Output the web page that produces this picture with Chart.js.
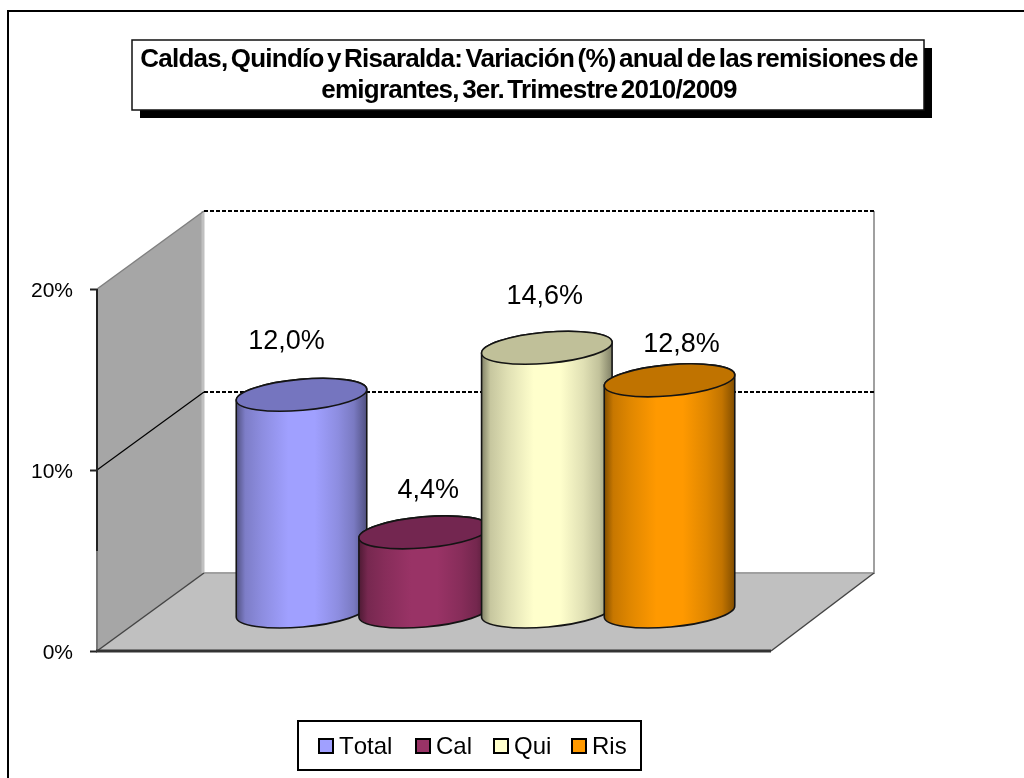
<!DOCTYPE html>
<html lang="es">
<head>
<meta charset="utf-8">
<title>Remisiones de emigrantes</title>
<script src="https://cdn.jsdelivr.net/npm/chart.js@4/dist/chart.umd.js"></script>
<style>
  html, body { margin: 0; background: #fff; }
  canvas { display: block; }
</style>
</head>
<body>
<canvas id="chart" width="1024" height="778"></canvas>
<script>
const categories = [''];
const seriesNames = ['Total', 'Cal', 'Qui', 'Ris'];
const seriesValues = [12.0, 4.4, 14.6, 12.8];
const yTicks = [0, 10, 20];
const titleLines = [
  'Caldas, Quindío y Risaralda: Variación (%) anual de las remisiones de',
  'emigrantes, 3er. Trimestre 2010/2009'
];

// colours per series: side and darker top cap
const sideColors = ['#a0a0ff', '#993366', '#ffffcc', '#ff9900'];
const capColors = ['#7575bf', '#732650', '#c0c099', '#c07300'];
// label nudges from the top of each cylinder, as in the picture
const labelDx = [-15, 4, -2, 12];
const labelDy = [-53, -42, -51, -36];
const legendX = [319, 416, 494, 572];
// horizontal shading of a cylinder side: [position, brightness]
const shadeStops = [[0, 0.5], [0.07, 0.78], [0.2, 0.88], [0.4, 1], [0.6, 1], [0.78, 0.88], [0.9, 0.76], [1, 0.5]];

const FONT = '"Liberation Sans", Arial, sans-serif';
const fmtPct = v => v.toFixed(1).replace('.', ',') + '%';
const shade = (hex, f) => {
  const n = parseInt(hex.slice(1), 16);
  return `rgb(${Math.round((n >> 16) * f)},${Math.round(((n >> 8) & 255) * f)},${Math.round((n & 255) * f)})`;
};

const scene = {
  id: 'scene',
  beforeDatasetDraw: () => false, // bars get painted as cylinders below
  beforeDatasetsDraw(chart) {
    const { ctx, chartArea: a, scales: { y } } = chart;
    const bl = a.left + 107, br = a.right + 103, up = 78;
    const y0 = y.getPixelForValue(0), yTop = y.getPixelForValue(20);
    ctx.save();
    // back wall
    ctx.fillStyle = '#fff';
    ctx.fillRect(bl, yTop - up, br - bl, y0 - yTop);
    // side wall
    ctx.fillStyle = '#a6a6a6';
    ctx.beginPath();
    ctx.moveTo(a.left, yTop); ctx.lineTo(bl, yTop - up); ctx.lineTo(bl, y0 - up); ctx.lineTo(a.left, y0);
    ctx.closePath(); ctx.fill();
    // floor
    ctx.fillStyle = '#c0c0c0';
    ctx.beginPath();
    ctx.moveTo(a.left, y0); ctx.lineTo(a.right, y0); ctx.lineTo(br, y0 - up); ctx.lineTo(bl, y0 - up);
    ctx.closePath(); ctx.fill();
    // wall edges
    ctx.strokeStyle = '#c0c0c0'; ctx.lineWidth = 3;
    ctx.beginPath(); ctx.moveTo(bl - 1, yTop - up); ctx.lineTo(bl - 1, y0 - up); ctx.stroke();
    ctx.strokeStyle = '#a0a0a0'; ctx.lineWidth = 2;
    ctx.beginPath(); ctx.moveTo(br, yTop - up); ctx.lineTo(br, y0 - up); ctx.lineTo(bl, y0 - up); ctx.stroke();
    ctx.strokeStyle = '#808080'; ctx.lineWidth = 1.5;
    ctx.beginPath(); ctx.moveTo(a.left, yTop); ctx.lineTo(bl, yTop - up); ctx.stroke();
    ctx.strokeStyle = '#444';
    ctx.beginPath(); ctx.moveTo(a.left, y0); ctx.lineTo(bl, y0 - up); ctx.stroke();
    ctx.beginPath(); ctx.moveTo(a.right, y0); ctx.lineTo(br, y0 - up); ctx.stroke();
    // gridlines
    yTicks.filter(v => v > 0).forEach(v => {
      const py = y.getPixelForValue(v);
      ctx.strokeStyle = '#000'; ctx.lineWidth = 1.2;
      ctx.setLineDash([]);
      if (v < 20) { ctx.beginPath(); ctx.moveTo(a.left, py); ctx.lineTo(bl, py - up); ctx.stroke(); }
      ctx.lineWidth = 2;
      ctx.setLineDash([4, 2]);
      ctx.beginPath(); ctx.moveTo(bl, py - up); ctx.lineTo(br, py - up); ctx.stroke();
      ctx.setLineDash([]);
    });
    // axes
    ctx.strokeStyle = '#222'; ctx.lineWidth = 2;
    ctx.beginPath(); ctx.moveTo(a.left, yTop); ctx.lineTo(a.left, y0 - 100); ctx.stroke();
    ctx.strokeStyle = '#777';
    ctx.beginPath(); ctx.moveTo(a.left, y0 - 100); ctx.lineTo(a.left, y0); ctx.stroke();
    ctx.strokeStyle = '#333'; ctx.lineWidth = 3;
    ctx.beginPath(); ctx.moveTo(a.left - 1, y0); ctx.lineTo(a.right, y0); ctx.stroke();
    ctx.restore();
  },
  afterDatasetsDraw(chart) {
    const { ctx } = chart;
    const dx = 51.5, dy = -39, b = 15.5, rot = -5 * Math.PI / 180;
    // left to right, each one sits over the previous
    chart.data.datasets.forEach((ds, i) => {
      const bar = chart.getDatasetMeta(i).data[0];
      const cx = bar.x + dx, top = bar.y + dy, base = bar.base + dy, r = bar.width / 2;
      const g = ctx.createLinearGradient(cx - r, 0, cx + r, 0);
      shadeStops.forEach(([pos, f]) => g.addColorStop(pos, shade(sideColors[i], f)));
      ctx.save();
      ctx.lineWidth = 1.6; ctx.strokeStyle = '#141414';
      ctx.fillStyle = g;
      ctx.beginPath();
      ctx.ellipse(cx, base, r, b, rot, 0, Math.PI);
      ctx.ellipse(cx, top, r, b, rot, Math.PI, 2 * Math.PI);
      ctx.closePath();
      ctx.fill(); ctx.stroke();
      ctx.fillStyle = capColors[i];
      ctx.beginPath();
      ctx.ellipse(cx, top, r, b, rot, 0, 2 * Math.PI);
      ctx.fill(); ctx.stroke();
      ctx.restore();
    });
    // value labels
    ctx.save();
    ctx.font = '27px ' + FONT;
    ctx.fillStyle = '#000';
    ctx.textAlign = 'center';
    ctx.textBaseline = 'middle';
    seriesValues.forEach((v, i) => {
      const bar = chart.getDatasetMeta(i).data[0];
      ctx.fillText(fmtPct(v), bar.x + dx + labelDx[i], bar.y + dy + labelDy[i]);
    });
    ctx.restore();
  },
  afterDraw(chart) {
    const { ctx } = chart;
    ctx.save();
    // outer frame
    ctx.strokeStyle = '#000'; ctx.lineWidth = 2;
    ctx.beginPath(); ctx.moveTo(8, 778); ctx.lineTo(8, 11); ctx.lineTo(1024, 11); ctx.stroke();
    // title box with its shadow
    ctx.fillStyle = '#000';
    ctx.fillRect(140, 48, 792, 70);
    ctx.fillStyle = '#fff';
    ctx.fillRect(132, 40, 792, 70);
    ctx.strokeStyle = '#111'; ctx.lineWidth = 1.5;
    ctx.strokeRect(132, 40, 792, 70);
    ctx.fillStyle = '#000';
    ctx.font = 'bold 26px ' + FONT;
    ctx.textAlign = 'center';
    ctx.textBaseline = 'alphabetic';
    ctx.letterSpacing = '-0.78px';
    ctx.wordSpacing = '-3px';
    ctx.fillText(titleLines[0], 529, 67);
    ctx.fillText(titleLines[1], 529, 98);
    ctx.letterSpacing = '0px';
    ctx.wordSpacing = '0px';
    // legend
    ctx.fillStyle = '#fff';
    ctx.fillRect(298, 721, 343, 49);
    ctx.strokeStyle = '#000'; ctx.lineWidth = 2;
    ctx.strokeRect(298, 721, 343, 49);
    ctx.font = '24px ' + FONT;
    ctx.fontKerning = 'none';
    ctx.textAlign = 'left';
    chart.data.datasets.forEach((ds, i) => {
      ctx.fillStyle = ds.backgroundColor;
      ctx.fillRect(legendX[i], 739, 14, 14);
      ctx.strokeStyle = '#000'; ctx.lineWidth = 2;
      ctx.strokeRect(legendX[i], 739, 14, 14);
      ctx.fillStyle = '#000';
      ctx.fillText(ds.label, legendX[i] + 20, 754);
    });
    ctx.restore();
  }
};

new Chart(document.getElementById('chart'), {
  type: 'bar',
  data: {
    labels: categories,
    datasets: seriesNames.map((name, i) => ({
      label: name,
      data: [seriesValues[i]],
      backgroundColor: sideColors[i]
    }))
  },
  options: {
    responsive: false,
    animation: false,
    layout: { padding: { left: 0, right: 253, top: 289, bottom: 127 } },
    categoryPercentage: 0.728,
    barPercentage: 1.068,
    plugins: { legend: { display: false }, title: { display: false }, tooltip: { enabled: false } },
    scales: {
      x: { display: false },
      y: {
        min: 0, max: 20,
        afterFit: s => { s.width = 97; },
        afterBuildTicks: s => { s.ticks = yTicks.map(value => ({ value })); },
        border: { display: false },
        grid: { drawOnChartArea: false, tickLength: 7, tickColor: '#222', tickWidth: 2 },
        ticks: { callback: v => v + '%', color: '#000', padding: 17, labelOffset: 2, font: { family: FONT, size: 21 } }
      }
    }
  },
  plugins: [scene]
});
</script>
</body>
</html>
